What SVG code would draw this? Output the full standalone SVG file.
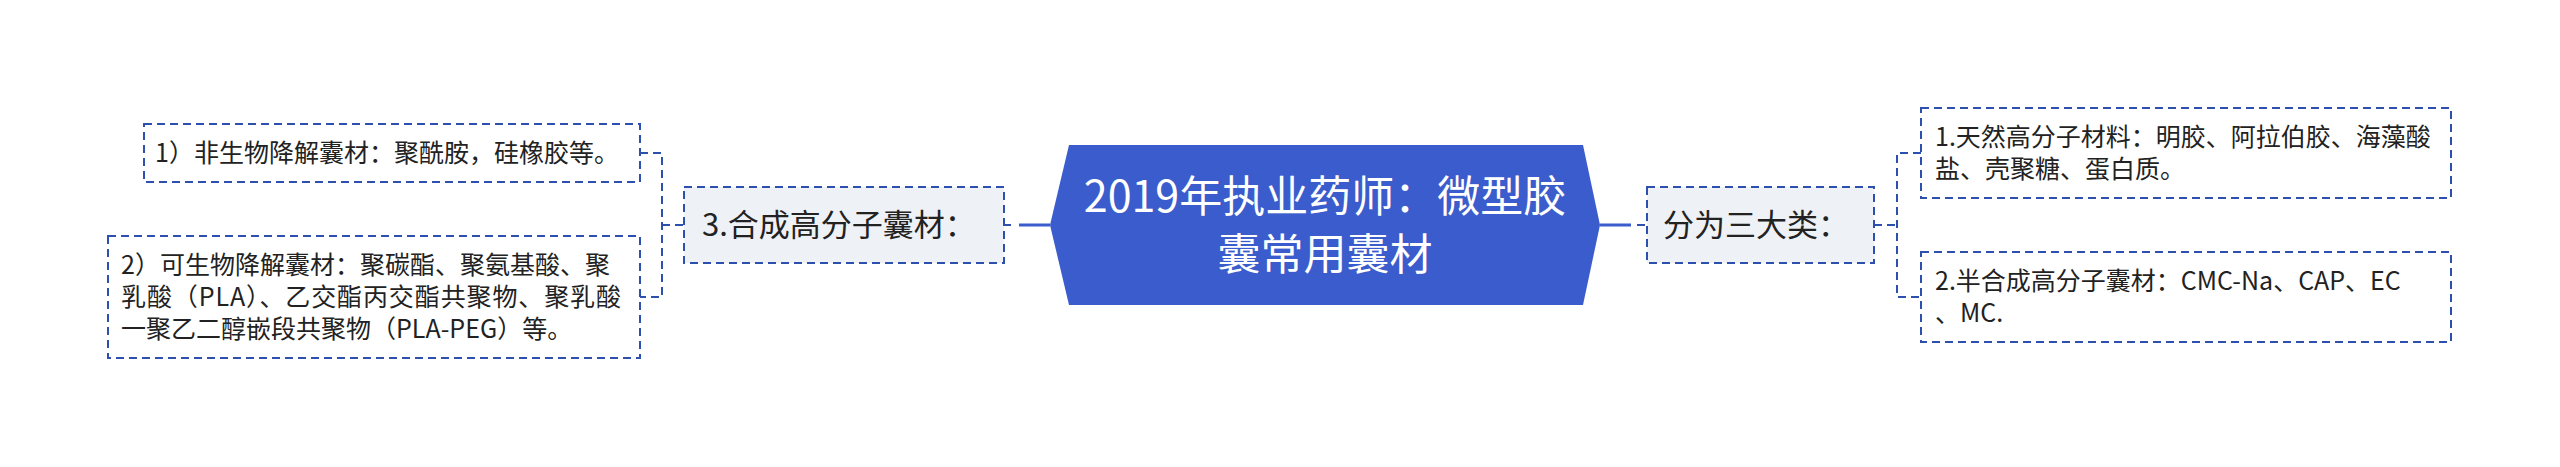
<svg xmlns="http://www.w3.org/2000/svg" width="2560" height="467" viewBox="0 0 2560 467">
<style>
.t{font-family:"Noto Sans CJK SC","Noto Sans",sans-serif;fill:#222;font-size:25px}
.big{font-size:31px}
.ct{font-family:"Noto Sans CJK SC","Noto Sans",sans-serif;fill:#fff;font-size:43px;text-anchor:middle}
.leaf{fill:#fff;stroke:#2d4fae;stroke-width:2;stroke-dasharray:8 5}
.sub{fill:#eef1f6;stroke:#2d4fae;stroke-width:2;stroke-dasharray:8 5}
.dash{stroke:#2d4fae;stroke-width:2;stroke-dasharray:8 5;fill:none}
.solid{stroke:#3b5ccc;stroke-width:3;fill:none}
</style>
<rect width="2560" height="467" fill="#fff"/>
<g id="connectors">
<path class="dash" d="M640 153H662V297H640M662 225H684"/>
<path class="solid" d="M1019 225H1050"/>
<path class="dash" d="M1005 225H1011"/>
<path class="solid" d="M1600 225H1631"/>
<path class="dash" d="M1637 225H1646"/>
<path class="dash" d="M1921 153H1897V297H1921M1874 225H1897"/>
</g>
<g id="center">
<polygon points="1050,225 1069,145 1583,145 1600,225 1583,305 1069,305" fill="#3b5ccc"/>
<text class="ct" x="1325" y="212">2019年执业药师：微型胶</text>
<text class="ct" x="1325" y="270">囊常用囊材</text>
</g>
<g id="node-synthetic">
<rect class="sub" x="684" y="187" width="320" height="76"/>
<text class="t big" x="702" y="236">3.合成高分子囊材：</text>
</g>
<g id="node-non-bio">
<rect class="leaf" x="144" y="124" width="496" height="58"/>
<text class="t" x="155" y="162">1）非生物降解囊材：聚酰胺，硅橡胶等。</text>
</g>
<g id="node-bio">
<rect class="leaf" x="108" y="236" width="532" height="122"/>
<text class="t" x="121" y="274">2）可生物降解囊材：聚碳酯、聚氨基酸、聚</text>
<text class="t" x="121" y="306" textLength="500" lengthAdjust="spacing">乳酸（PLA）、乙交酯丙交酯共聚物、聚乳酸</text>
<text class="t" x="121" y="338">一聚乙二醇嵌段共聚物（PLA-PEG）等。</text>
</g>
<g id="node-three">
<rect class="sub" x="1647" y="187" width="227" height="76"/>
<text class="t big" x="1663" y="236">分为三大类：</text>
</g>
<g id="node-natural">
<rect class="leaf" x="1921" y="108" width="530" height="90"/>
<text class="t" x="1935" y="146">1.天然高分子材料：明胶、阿拉伯胶、海藻酸</text>
<text class="t" x="1935" y="178">盐、壳聚糖、蛋白质。</text>
</g>
<g id="node-semi">
<rect class="leaf" x="1921" y="252" width="530" height="90"/>
<text class="t" x="1935" y="290">2.半合成高分子囊材：CMC-Na、CAP、EC</text>
<text class="t" x="1935" y="322">、MC.</text>
</g>
</svg>
